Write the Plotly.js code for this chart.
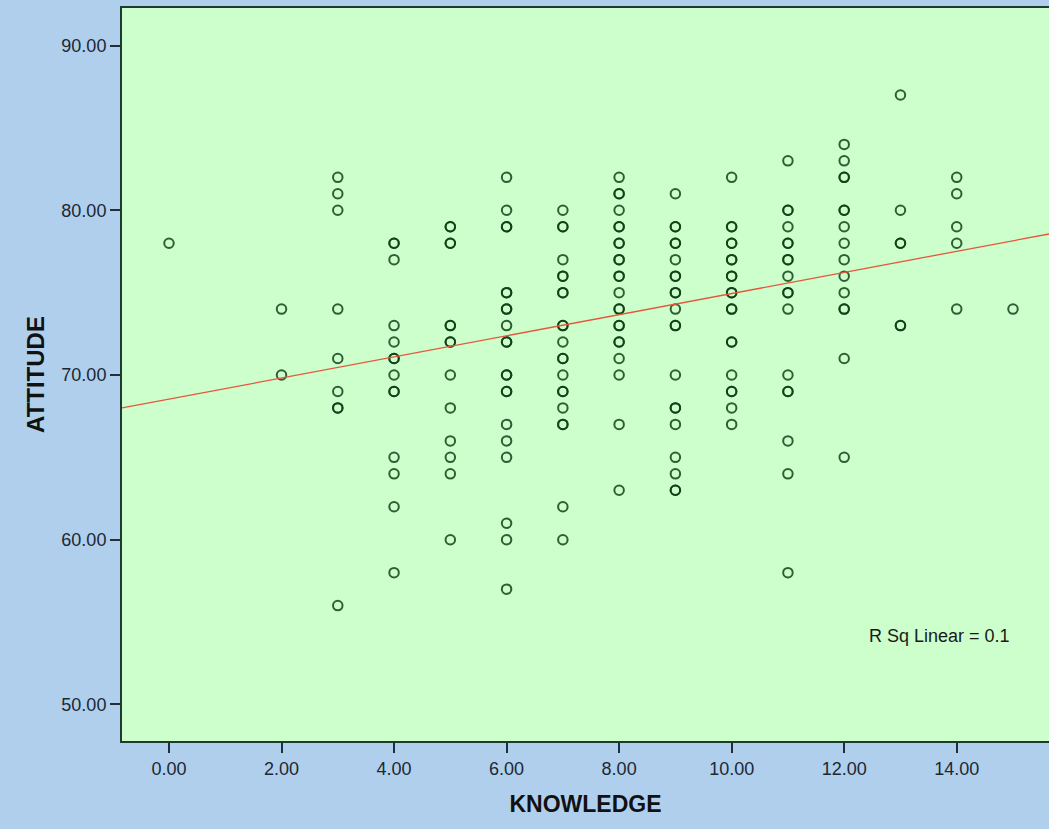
<!DOCTYPE html>
<html>
<head>
<meta charset="utf-8">
<script src="https://cdn.plot.ly/plotly-3.0.1.min.js"></script>
<style>
  html, body { margin: 0; padding: 0; background: #b0cfec; }
  #chart { width: 1049px; height: 829px; }
</style>
</head>
<body>
<div id="chart"></div>
<script>
// KNOWLEDGE score groups and ATTITUDE values
const knowledgeScores = [0, 2, 3, 4, 5, 6, 7, 8, 9, 10, 11, 12, 13, 14, 15];
const attitudeK0  = [78];
const attitudeK2  = [74, 70];
const attitudeK3  = [82, 81, 80, 74, 71, 69, 68, 68, 56];
const attitudeK4  = [78, 78, 77, 73, 72, 71, 71, 70, 69, 69, 65, 64, 62, 58];
const attitudeK5  = [79, 79, 78, 78, 73, 73, 72, 72, 70, 68, 66, 65, 64, 60];
const attitudeK6  = [82, 80, 79, 79, 75, 75, 74, 74, 73, 72, 72, 70, 70, 69, 69, 67, 66, 65, 61, 60, 57];
const attitudeK7  = [80, 79, 79, 77, 76, 76, 75, 75, 73, 73, 72, 71, 71, 70, 69, 69, 68, 67, 67, 62, 60];
const attitudeK8  = [82, 81, 81, 80, 79, 79, 78, 78, 77, 77, 76, 76, 75, 74, 74, 73, 73, 72, 72, 71, 70, 67, 63];
const attitudeK9  = [81, 79, 79, 78, 78, 77, 76, 76, 75, 75, 74, 73, 73, 70, 68, 68, 67, 65, 64, 63, 63];
const attitudeK10 = [82, 79, 79, 78, 78, 77, 77, 76, 76, 75, 75, 74, 74, 72, 72, 70, 69, 69, 68, 67];
const attitudeK11 = [83, 80, 80, 79, 78, 78, 77, 77, 76, 75, 75, 74, 70, 69, 69, 66, 64, 58];
const attitudeK12 = [84, 83, 82, 82, 80, 80, 79, 78, 77, 76, 75, 74, 74, 71, 65];
const attitudeK13 = [87, 80, 78, 78, 73, 73];
const attitudeK14 = [82, 81, 79, 78, 74];
const attitudeK15 = [74];
const attitudeGroups = [attitudeK0, attitudeK2, attitudeK3, attitudeK4, attitudeK5, attitudeK6,
  attitudeK7, attitudeK8, attitudeK9, attitudeK10, attitudeK11, attitudeK12, attitudeK13,
  attitudeK14, attitudeK15];

// Fit line end points
const fitX = [-0.835, 15.64];
const fitY = [68.0, 78.56];

const xTickVals = [0, 2, 4, 6, 8, 10, 12, 14];
const yTickVals = [50, 60, 70, 80, 90];

const xs = [], ys = [];
knowledgeScores.forEach((k, i) => {
  attitudeGroups[i].forEach(v => { xs.push(k); ys.push(v); });
});

const FONT = '"Liberation Sans", Arial, sans-serif';
const tickFont = { family: FONT, size: 18, color: '#1c2833' };

const data = [
  {
    type: 'scatter', mode: 'markers', x: xs, y: ys,
    marker: {
      symbol: 'circle-open', size: 9.5,
      color: 'rgba(12,58,18,0.82)',
      line: { width: 2, color: 'rgba(12,58,18,0.82)' }
    },
    hoverinfo: 'x+y', showlegend: false
  },
  {
    type: 'scatter', mode: 'lines', x: fitX, y: fitY,
    line: { color: '#e8553a', width: 1.3 },
    hoverinfo: 'skip', showlegend: false
  }
];

const axisCommon = {
  showgrid: false, zeroline: false,
  showline: true, linecolor: '#1f3a2f', linewidth: 2,
  ticks: 'outside', ticklen: 10, tickwidth: 2, tickcolor: '#1f2f3f',
  tickfont: tickFont, tickformat: '.2f'
};

const layout = {
  width: 1049, height: 829,
  paper_bgcolor: '#b0cfec', plot_bgcolor: '#ccffcc',
  margin: { l: 122, r: 0, t: 8, b: 88, pad: 0 },
  showlegend: false,
  xaxis: Object.assign({}, axisCommon, {
    range: [-0.835, 15.64], tickmode: 'array', tickvals: xTickVals,
    mirror: true,
    title: { text: '<b>KNOWLEDGE</b>', font: { family: FONT, size: 23, color: '#111111' }, standoff: 18 }
  }),
  yaxis: Object.assign({}, axisCommon, {
    range: [47.78, 92.28], tickmode: 'array', tickvals: yTickVals,
    title: { text: '<b>ATTITUDE</b>', font: { family: FONT, size: 24, color: '#111111' }, standoff: 10 }
  }),
  annotations: [{
    xref: 'x', yref: 'y', x: 13.69, y: 54.15,
    text: 'R Sq Linear = 0.1', showarrow: false,
    font: { family: FONT, size: 18, color: '#1a1a1a' },
    xanchor: 'center', yanchor: 'middle'
  }]
};

Plotly.newPlot('chart', data, layout, { displayModeBar: false, staticPlot: true });
</script>
</body>
</html>
